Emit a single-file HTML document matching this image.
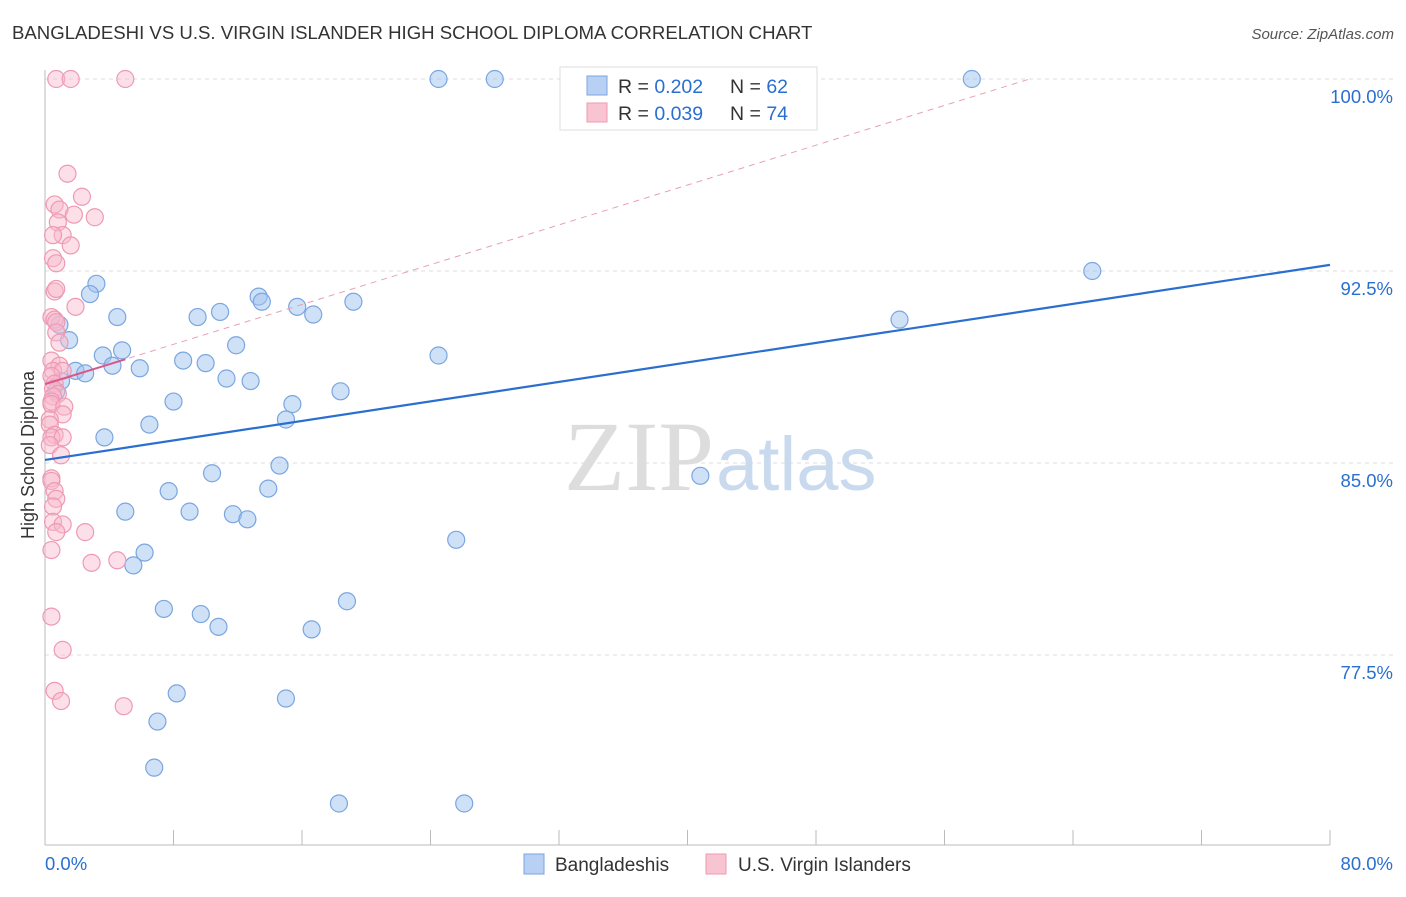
<!DOCTYPE html>
<html><head><meta charset="utf-8"><style>
body{margin:0;background:#fff;font-family:"Liberation Sans",sans-serif}
</style></head><body>
<svg width="1406" height="892" xmlns="http://www.w3.org/2000/svg">
<text x="12" y="39" font-size="18.6" fill="#333">BANGLADESHI VS U.S. VIRGIN ISLANDER HIGH SCHOOL DIPLOMA CORRELATION CHART</text>
<text x="1394" y="39" font-size="15" fill="#555" text-anchor="end" font-style="italic">Source: ZipAtlas.com</text>
<g id="grid"></g>
<text x="714" y="490" font-size="100" fill="#ddd" text-anchor="end" font-family="Liberation Serif,serif">ZIP</text>
<text x="716" y="490" font-size="76" fill="#c9d9ee">atlas</text>
<text x="34" y="455" font-size="18" fill="#333" text-anchor="middle" transform="rotate(-90 34 455)">High School Diploma</text>
<g id="marks"></g>
<g>
<rect x="560" y="67" width="257" height="63" fill="#fff" stroke="#ddd"/>
<rect x="587" y="76" width="20" height="19" fill="#b7d0f3" stroke="#7aa6e0"/>
<rect x="587" y="103" width="20" height="19" fill="#f9c4d2" stroke="#ee9ab3"/>
<text x="618" y="93" font-size="19.5" fill="#333">R = <tspan fill="#2a6fd0">0.202</tspan></text>
<text x="730" y="93" font-size="19.5" fill="#333">N = <tspan fill="#2a6fd0">62</tspan></text>
<text x="618" y="120" font-size="19.5" fill="#333">R = <tspan fill="#2a6fd0">0.039</tspan></text>
<text x="730" y="120" font-size="19.5" fill="#333">N = <tspan fill="#2a6fd0">74</tspan></text>
</g>
<g>
<rect x="524" y="854" width="20" height="20" fill="#b7d0f3" stroke="#7aa6e0"/>
<text x="555" y="871" font-size="19" fill="#333">Bangladeshis</text>
<rect x="706" y="854" width="20" height="20" fill="#f9c4d2" stroke="#ee9ab3"/>
<text x="738" y="871" font-size="19" fill="#333">U.S. Virgin Islanders</text>
</g>
</svg>
<script>
const yTicks=[100,92.5,85,77.5];
const yTickLabels=["100.0%","92.5%","85.0%","77.5%"];
const xTickLabels=["0.0%","80.0%"];
const bangX=[24.5,28,57.7,65.2,53.2,3.2,2.8,13.3,13.5,15.7,16.7,19.2,4.5,9.5,10.9,0.9,1.5,11.9,4.8,3.6,4.2,5.9,8.6,10,24.5,1.9,2.5,1,0.7,11.3,12.8,18.4,8,15.4,15,6.5,3.7,10.4,14.6,40.8,7.7,13.9,5,9,11.7,12.6,25.6,6.2,5.5,18.8,7.4,9.7,10.8,16.6,8.2,15,7,6.8,18.3,26.1];
const bangY=[100,100,100,92.5,90.6,92,91.6,91.5,91.3,91.1,90.8,91.3,90.7,90.7,90.9,90.4,89.8,89.6,89.4,89.2,88.8,88.7,89,88.9,89.2,88.6,88.5,88.2,87.8,88.3,88.2,87.8,87.4,87.3,86.7,86.5,86,84.6,84.9,84.5,83.9,84,83.1,83.1,83,82.8,82,81.5,81,79.6,79.3,79.1,78.6,78.5,76,75.8,74.9,73.1,71.7,71.7];
const pinkX=[0.7,1.6,5.0,1.4,2.3,0.6,0.9,1.8,0.8,3.1,1.1,0.5,1.6,0.5,0.7,0.6,0.7,1.9,0.4,0.6,0.7,0.7,0.9,0.4,0.9,0.5,1.1,0.4,0.6,0.5,0.8,0.5,0.4,0.4,1.2,1.1,0.3,0.3,0.6,0.4,1.1,0.3,1.0,0.4,0.4,0.6,0.7,0.5,0.5,1.1,0.7,2.5,0.4,2.9,4.5,0.4,1.1,0.6,1.0,4.9];
const pinkY=[100,100,100,96.3,95.4,95.1,94.9,94.7,94.4,94.6,93.9,93.9,93.5,93,92.8,91.7,91.8,91.1,90.7,90.6,90.5,90.1,89.7,89,88.8,88.6,88.6,88.4,88.1,87.9,87.7,87.6,87.4,87.3,87.2,86.9,86.7,86.5,86.1,86,86,85.7,85.3,84.4,84.3,83.9,83.6,83.3,82.7,82.6,82.3,82.3,81.6,81.1,81.2,79,77.7,76.1,75.7,75.5];
const X0=45,X1=1330,Y0=79;
const xs=v=>X0+v/80*(X1-X0);
const ys=v=>Y0+(100-v)*25.6;
const NS="http://www.w3.org/2000/svg";
function mk(tag,attrs,parent){const e=document.createElementNS(NS,tag);for(const k in attrs)e.setAttribute(k,attrs[k]);parent.appendChild(e);return e;}
const grid=document.getElementById('grid');
yTicks.forEach((t,i)=>{
 const l=mk('line',{x1:X0,x2:1394,y1:ys(t),y2:ys(t),stroke:'#ddd','stroke-dasharray':'4 4'},grid);
 
 
 const tx=mk('text',{x:1393,y:ys(t)+24,'font-size':18.5,fill:'#2a6fd0','text-anchor':'end'},grid);
 tx.textContent=yTickLabels[i];
 
 
});
const ax=mk('line',{x1:X0,x2:X1,y1:845,y2:845,stroke:'#bbb'},grid);


const ay=mk('line',{x1:X0,x2:X0,y1:70,y2:845,stroke:'#bbb'},grid);


for(let i=0;i<=10;i++){const x=X0+i*(X1-X0)/10;const t=mk('line',{x1:x,x2:x,y1:830,y2:845,stroke:'#bbb'},grid);
 
 }
[[0,'start',45],[80,'end',1393]].forEach((d,i)=>{const t=mk('text',{x:d[2],y:870,'font-size':18.5,fill:'#2a6fd0','text-anchor':d[1]},grid);t.textContent=xTickLabels[i];
 
 });
const g=document.getElementById('marks');
bangX.forEach((v,i)=>{const c=mk('circle',{cx:xs(v),cy:ys(bangY[i]),r:8.5,fill:'rgba(160,195,240,0.5)',stroke:'#7aa6e0','stroke-width':1.2},g);
 
 });
pinkX.forEach((v,i)=>{const c=mk('circle',{cx:xs(v),cy:ys(pinkY[i]),r:8.5,fill:'rgba(248,185,205,0.45)',stroke:'#ee9ab3','stroke-width':1.2},g);
 
 });
const bl=mk('line',{x1:xs(0),y1:ys(85.12),x2:xs(80),y2:ys(92.74),stroke:'#2a6fd0','stroke-width':2.2},g);


const pd=mk('line',{x1:xs(0),y1:ys(88.08),x2:xs(61.3),y2:ys(100),stroke:'#e8a0b6','stroke-width':1,'stroke-dasharray':'6 5'},g);


const pl=mk('line',{x1:xs(0),y1:ys(88.08),x2:xs(5),y2:ys(89.05),stroke:'#dd5588','stroke-width':2},g);


</script>
</body></html>
